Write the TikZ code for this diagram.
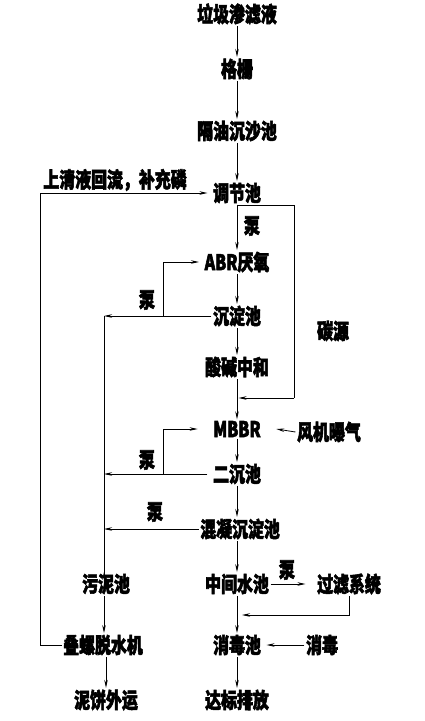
\documentclass[tikz,border=0pt]{standalone}
\usepackage{fontspec}
\newfontfamily\cjk[FakeStretch=0.74,FakeBold=2.5]{Noto Sans CJK SC}
\usepackage{tikz}
\usetikzlibrary{arrows.meta,positioning,calc}

\begin{document}
\begin{tikzpicture}[x=1pt,y=-1pt,
  b/.style={font=\cjk\bfseries\fontsize{21.5}{22}\selectfont,inner sep=1.5pt},
  l/.style={line width=0.8pt},
  a/.style={l,-{Stealth[length=8pt,width=3.5pt]}}]
\useasboundingbox (0,0) rectangle (424,721);
% main column
\node[b] (src) at (237,14) {垃圾渗滤液};
\node[b] (grid) at (237,69) {格栅};
\node[b] (oil) at (237,131) {隔油沉沙池};
\node[b] (tj) at (237,193) {调节池};
\node[b] (abr) at (237,262) {ABR厌氧};
\node[b] (cd) at (237,316) {沉淀池};
\node[b] (neu) at (237,367) {酸碱中和};
\node[b] (mbbr) at (237,429) {MBBR};
\node[b] (ec) at (237,474) {二沉池};
\node[b] (hn) at (240,529) {混凝沉淀池};
\node[b] (mid) at (237,584) {中间水池};
\node[b] (flt) at (349,584) {过滤系统};
\node[b] (xd) at (237,645) {消毒池};
\node[b] (dis) at (322,645) {消毒};
\node[b] (out) at (237,700) {达标排放};
% sludge column
\node[b] (wn) at (106,584) {污泥池};
\node[b] (dl) at (103,645) {叠螺脱水机};
\node[b] (nb) at (106,700) {泥饼外运};
% side inputs and labels
\node[b] (air) at (329,432) {风机曝气};
\node[b] (c) at (333,331) {碳源};
\node[b] (ret) at (115,180) {上清液回流，补充磷};
\node[b] (p1) at (252,226) {泵};
\node[b] (p2) at (147,300) {泵};
\node[b] (p3) at (147,460) {泵};
\node[b] (p4) at (155,512) {泵};
\node[b] (p5) at (287,570) {泵};
\coordinate (cbot) at (294,398);
\coordinate (ctop) at (tj.south -| cbot);
\coordinate (s1) at (104,316);
\coordinate (r1) at (163,316);
\coordinate (r2) at (163,474);
\coordinate (rl) at (40,645);
\coordinate (fb) at (349,615);
% flow
\draw[a](src)--(grid);\draw[a](grid)--(oil);\draw[a](oil)--(tj);
\draw[a](tj.south)--(abr);\draw[a](abr)--(cd);\draw[a](cd)--(neu);
\draw[a](neu)--(mbbr);\draw[a](mbbr)--(ec);\draw[a](ec)--(ec |- hn.north);
\draw[a](hn.south -| mid)--(mid);\draw[a](mid)--(xd);\draw[a](xd)--(out);
\draw[l](tj.south)--(ctop)--(cbot);
\draw[a](cbot)--([xshift=1.5pt]cbot -| neu);
\draw[a](air.west)--([xshift=14pt]mbbr.east);
\draw[a](mid.east)--([xshift=-10pt]flt.west);
\draw[a](flt.south)--(fb)--([xshift=5pt]fb -| mid);
\draw[a](dis.west)--([xshift=4pt]xd.east);
% sludge
\draw[a](cd.west)--(s1);
\draw[a]([xshift=-4pt]ec.west)--(ec.west -| s1);
\draw[a](hn.west)--(hn.west -| s1);
\draw[l](s1)--([yshift=-8pt]s1 |- wn.north);
\draw[a]([yshift=-8pt]s1 |- wn.north)--(s1 |- wn.north);
\draw[a](wn.south -| s1)--(dl.north -| s1);
\draw[a](dl.south -| nb)--(nb);
\draw[a](r1)|-([xshift=-4pt]abr.west);
\draw[a](r2)|-([xshift=-14pt]mbbr.west);
\draw[a](dl.west)--(rl)|-([xshift=-4pt]tj.west);
\end{tikzpicture}
\end{document}
